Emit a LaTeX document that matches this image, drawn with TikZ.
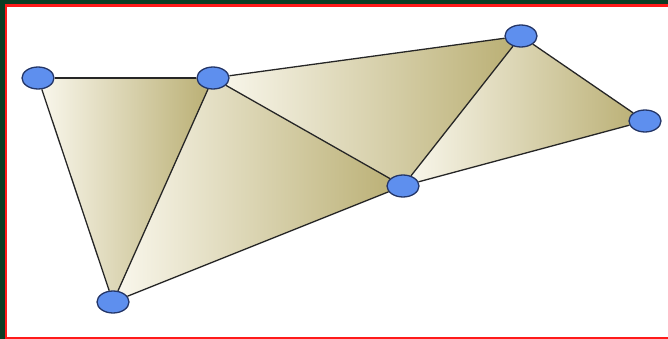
\documentclass[tikz,border=0pt]{standalone}
\usetikzlibrary{shapes.geometric}
\definecolor{bgreen}{HTML}{0B3D24}
\definecolor{bred}{HTML}{FF1A1A}
\definecolor{facelight}{HTML}{FAF8EE}
\definecolor{facedark}{HTML}{B9AE72}
\definecolor{vblue}{HTML}{5E8FEE}
\definecolor{vedge}{HTML}{243668}
\tikzset{
  vertex/.style={ellipse, minimum width=32pt, minimum height=22pt, inner sep=0pt,
    fill=vblue, draw=vedge, line width=1.3pt},
  face/.style={left color=facelight, right color=facedark, shading angle=90},
  edgeline/.style={draw=black!85, line width=1.3pt}
}
\begin{document}
\begin{tikzpicture}[x=1pt,y=-1pt]
\useasboundingbox (0,0) rectangle (668,339);
\fill[white] (0,0) rectangle (668,339);
% frame
\fill[bgreen] (0,0) rectangle (668,4.5);
\fill[bgreen] (0,0) rectangle (4.5,339);
\fill[bred] (4.5,4.5) rectangle (668,6.8);
\fill[bred] (4.5,4.5) rectangle (7,339);
\fill[bred] (4.5,337.3) rectangle (668,339);
% vertex positions
\coordinate (pA) at (38,78);
\coordinate (pB) at (213,78);
\coordinate (pC) at (113,302);
\coordinate (pD) at (403,186);
\coordinate (pE) at (521,36);
\coordinate (pF) at (645,121);
% faces
\shade[left color=facelight, right color=facedark] (pA) -- (pB) -- (pC) -- cycle;
\shade[left color=facelight, right color=facedark] (pB) -- (pD) -- (pC) -- cycle;
\shade[left color=facelight, right color=facedark] (pB) -- (pE) -- (pD) -- cycle;
\shade[left color=facelight, right color=facedark] (pE) -- (pF) -- (pD) -- cycle;
% vertices
\node[vertex] (A) at (pA) {};
\node[vertex] (B) at (pB) {};
\node[vertex] (C) at (pC) {};
\node[vertex] (D) at (pD) {};
\node[vertex] (E) at (pE) {};
\node[vertex] (F) at (pF) {};
% edges
\draw[edgeline] (A) -- (B);
\draw[edgeline] (A) -- (C);
\draw[edgeline] (B) -- (C);
\draw[edgeline] (B) -- (D);
\draw[edgeline] (C) -- (D);
\draw[edgeline] (B) -- (E);
\draw[edgeline] (D) -- (E);
\draw[edgeline] (E) -- (F);
\draw[edgeline] (D) -- (F);
\end{tikzpicture}
\end{document}
